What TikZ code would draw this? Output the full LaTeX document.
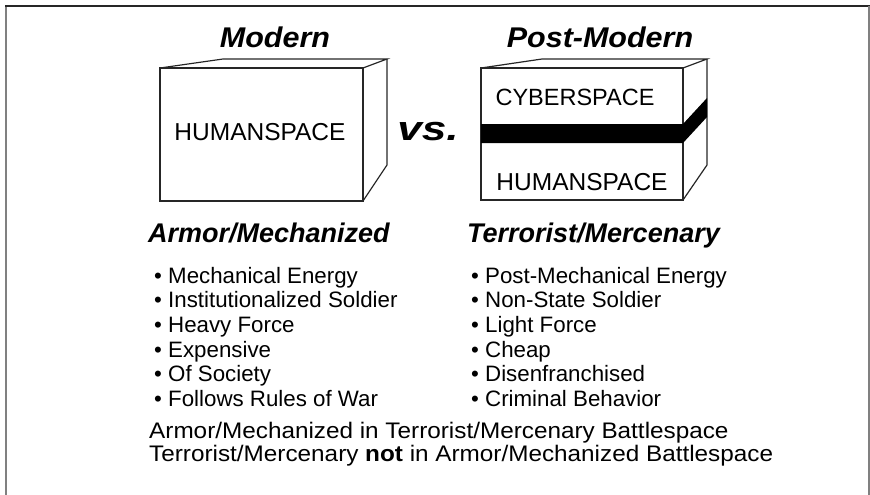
\documentclass[tikz,border=0pt]{standalone}
\usepackage{fontspec}
\setmainfont{Liberation Sans}
\newfontfamily\wideA[FakeStretch=1.07]{Liberation Sans}
\newfontfamily\wideB[FakeStretch=1.08]{Liberation Sans}
\newfontfamily\wideV[FakeStretch=1.3]{Liberation Sans}
\begin{document}
\begin{tikzpicture}[x=1pt,y=-1pt,
  boxline/.style={draw=black!85,line width=1.2pt,line join=miter},
  title/.style={font=\wideA\fontsize{28.5}{30}\selectfont\bfseries\itshape,inner sep=0pt},
  subtitle/.style={font=\fontsize{27}{30}\selectfont\bfseries\itshape,inner sep=0pt,anchor=base west},
  boxtext/.style={font=\fontsize{24.5}{26}\selectfont,inner sep=0pt},
  item/.style={font=\fontsize{22.3}{24}\selectfont,inner sep=0pt,anchor=base west},
  note/.style={font=\wideB\fontsize{22.5}{24}\selectfont,inner sep=0pt,anchor=base west}]
\useasboundingbox (0,0) rectangle (870,495);
% frame
\draw[black!50,line width=2pt] (6,495) -- (6,6);
\draw[black!85,line width=1.5pt] (5,6) -- (870,6);
\draw[black!50,line width=2pt] (869,6) -- (869,495);
% box 1
\draw[boxline,fill=white] (160,68) rectangle (363,201);
\draw[boxline] (160,68) -- (223,59) -- (387,59) -- (363,68);
\draw[boxline] (387,59) -- (387,165) -- (363,201);
% box 2
\draw[boxline,fill=white] (481,68) rectangle (683,200);
\draw[boxline] (481,68) -- (542,59) -- (707,59) -- (683,68);
\draw[boxline] (707,59) -- (707,165) -- (683,200);
\fill[black] (481,124) -- (683,124) -- (707,98) -- (707,117) -- (683,143) -- (481,143) -- cycle;
% titles
\node[title] (modern) at (275,37) {Modern};
\node[title] (postmodern) at (600,37) {Post-Modern};
\node[boxtext] (hs1) at (260,132) {HUMANSPACE};
\node[font=\wideV\fontsize{34}{36}\selectfont\bfseries\itshape,inner sep=0pt] (vs) at (428,132) {vs.};
\node[boxtext,font=\fontsize{23.5}{26}\selectfont] (cyber) at (575,97) {CYBERSPACE};
\node[boxtext] (hs2) at (582,182) {HUMANSPACE};
\node[subtitle] (armor) at (148,242) {Armor/Mechanized};
\node[subtitle] (terror) at (467,242) {Terrorist/Mercenary};
% lists
\foreach \t [count=\i] in {Mechanical Energy,Institutionalized Soldier,Heavy Force,Expensive,Of Society,Follows Rules of War}
  \node[item] (l\i) at (154,{283+(\i-1)*24.7}) {\textbullet\ \t};
\foreach \t [count=\i] in {Post-Mechanical Energy,Non-State Soldier,Light Force,Cheap,Disenfranchised,Criminal Behavior}
  \node[item] (r\i) at (471,{283+(\i-1)*24.7}) {\textbullet\ \t};
% bottom notes
\node[note] (n1) at (149,438) {Armor/Mechanized in Terrorist/Mercenary Battlespace};
\node[note] (n2) at (149,461) {Terrorist/Mercenary \textbf{not} in Armor/Mechanized Battlespace};
\end{tikzpicture}
\end{document}
